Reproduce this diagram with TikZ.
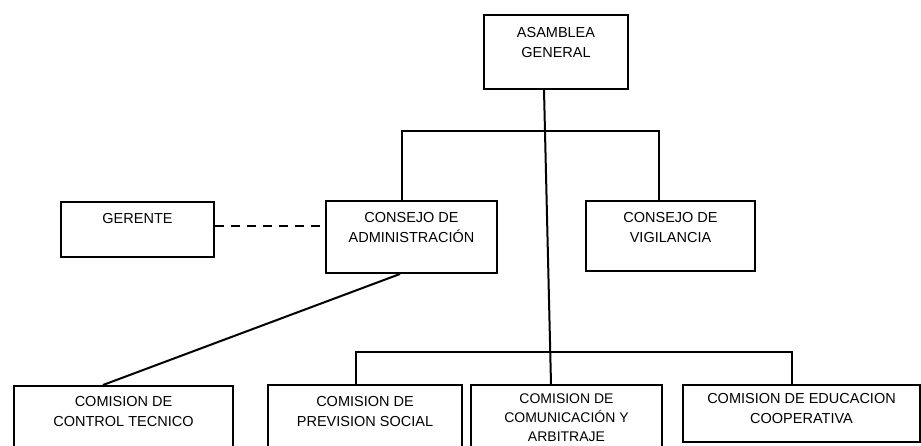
\documentclass[tikz,border=0pt]{standalone}
\usepackage{fontspec}
\setmainfont{Liberation Sans}
\begin{document}
\begin{tikzpicture}[x=1pt,y=-1pt,
 box/.style={draw, line width=2pt, inner sep=0, anchor=north west},
 txt/.style={inner sep=0, align=center, anchor=north, font=\fontsize{14.5}{20}\selectfont},
 conn/.style={line width=2pt}]
\useasboundingbox (0,0) rectangle (921,446);
\clip (0,0) rectangle (921,446);
% boxes
\node[box, minimum width=144pt, minimum height=74pt] (asam) at (483,14) {};
\node[box, minimum width=153pt, minimum height=55pt] (gerente) at (60,201) {};
\node[box, minimum width=171pt, minimum height=72pt] (admin) at (325,200) {};
\node[box, minimum width=169pt, minimum height=70pt] (vigil) at (585,200) {};
\node[box, minimum width=219pt, minimum height=80pt] (control) at (13,385) {};
\node[box, minimum width=194pt, minimum height=80pt] (prevision) at (267,384) {};
\node[box, minimum width=191pt, minimum height=80pt] (comunic) at (470,384) {};
\node[box, minimum width=237pt, minimum height=57pt] (educ) at (682,384) {};
% texts
\node[txt] (asamT) at ([yshift=-13pt]asam.north) {ASAMBLEA\\GENERAL};
\node[txt] (gerenteT) at ([yshift=-12pt]gerente.north) {GERENTE};
\node[txt] (adminT) at ([yshift=-12pt]admin.north) {CONSEJO DE\\ADMINISTRACIÓN};
\node[txt] (vigilT) at ([yshift=-12pt]vigil.north) {CONSEJO DE\\VIGILANCIA};
\node[txt] (controlT) at ([yshift=-11pt]control.north) {COMISION DE\\CONTROL TECNICO};
\node[txt] (previsionT) at ([yshift=-12pt]prevision.north) {COMISION DE\\PREVISION SOCIAL};
\node[txt, font=\fontsize{14}{19}\selectfont] (comunicT) at ([yshift=-10pt]comunic.north) {COMISION DE\\COMUNICACIÓN Y\\ARBITRAJE};
\node[txt] (educT) at ([yshift=-9pt]educ.north) {COMISION DE EDUCACION\\COOPERATIVA};
% helper coordinates
\coordinate (busT) at (0,131);
\coordinate (busB) at (0,352);
\coordinate (dashy) at (0,226);
\coordinate (xA) at (544,0);
\coordinate (xB) at (551,0);
\coordinate (xL) at (402,0);
\coordinate (xR) at (659,0);
\coordinate (xD1) at (400,0);
\coordinate (xD2) at (103,0);
\coordinate (xP) at (356,0);
\coordinate (xE) at (792,0);
% connectors
\draw[conn] (xA |- asam.south) -- (xB |- comunic.north);
\draw[conn] (xL |- admin.north) -- (xL |- busT) -- (xR |- busT) -- (xR |- vigil.north);
\draw[conn, dash pattern=on 9pt off 7pt] (gerente.east |- dashy) -- (admin.west |- dashy);
\draw[conn] (xD1 |- admin.south) -- (xD2 |- control.north);
\draw[conn] (xP |- prevision.north) -- (xP |- busB) -- (xE |- busB) -- (xE |- educ.north);
\end{tikzpicture}
\end{document}
